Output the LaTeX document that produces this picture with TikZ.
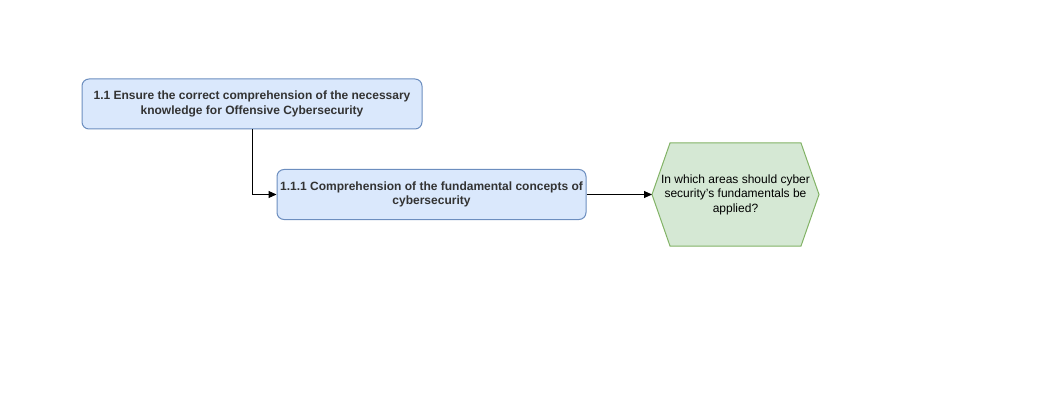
\documentclass[tikz,border=0pt]{standalone}
\usepackage{fontspec}
\setmainfont{Liberation Sans}
\usetikzlibrary{arrows.meta}
\definecolor{boxfill}{HTML}{DAE8FC}
\definecolor{boxline}{HTML}{6C8EBF}
\definecolor{hexfill}{HTML}{D5E8D4}
\definecolor{hexline}{HTML}{82B366}
\definecolor{txt}{HTML}{333333}
\tikzset{
    goal/.style={draw=boxline,fill=boxfill,rounded corners=7pt,align=center,
        font=\fontsize{12}{14.5}\selectfont\bfseries,text=txt,inner sep=0pt},
    question/.style={align=center,font=\fontsize{12}{14.5}\selectfont,inner sep=0pt},
    link/.style={-{Triangle[length=8pt,width=7pt]},line width=1pt}
}
\begin{document}
\begin{tikzpicture}[x=1pt,y=-1pt,line width=1pt]
        \useasboundingbox (0,0) rectangle (1061,409);

        \node[goal,minimum width=340pt,minimum height=50pt] (g11) at (252,104)
            {1.1 Ensure the correct comprehension of the necessary\\knowledge for Offensive Cybersecurity};
        \node[goal,minimum width=309pt,minimum height=50pt] (g111) at (431.5,194.5)
            {1.1.1 Comprehension of the fundamental concepts of\\cybersecurity};

        % hexagon with the question
        \coordinate (qW) at (652,194.5);
        \coordinate (qE) at (819,194.5);
        \filldraw[draw=hexline,fill=hexfill] (qW) -- (670,143) -- (801,143) -- (qE) -- (801,246) -- (670,246) -- cycle;
        \node[question] (q) at (735.5,194.5) {In which areas should cyber\\security’s fundamentals be\\applied?};

        \draw[link] (g11.south) |- (g111.west);
        \draw[link] (g111.east) -- (qW);
    \end{tikzpicture}
\end{document}
